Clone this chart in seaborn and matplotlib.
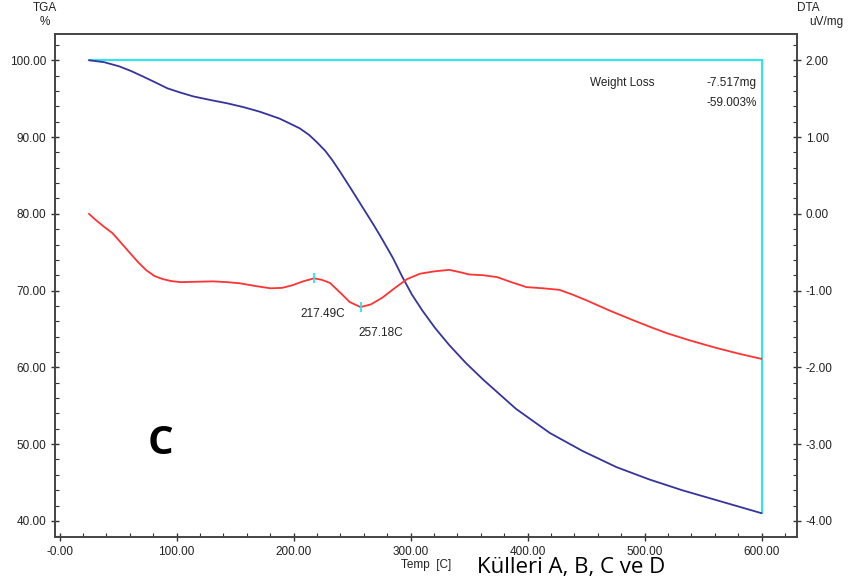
import matplotlib.pyplot as plt
import seaborn as sns
import pandas as pd
from matplotlib.ticker import MultipleLocator, FormatStrFormatter

# TGA curve (weight %)
tga_temp = [25, 38, 51, 61, 71, 82, 92, 103, 114, 128, 143, 157, 171, 188, 205,
            213, 220, 227, 233, 240, 248, 255, 262, 269, 276, 285, 293, 301, 310,
            321, 333, 347, 362, 390, 419, 447, 476, 504, 532, 566, 600]
tga_pct = [100.0, 99.75, 99.2, 98.6, 97.9, 97.1, 96.35, 95.8, 95.3, 94.85, 94.4,
           93.9, 93.3, 92.4, 91.15, 90.3, 89.3, 88.2, 87.0, 85.4, 83.5, 81.8, 80.1,
           78.4, 76.6, 74.2, 71.75, 69.5, 67.4, 65.1, 62.9, 60.6, 58.4, 54.6, 51.45,
           49.1, 47.0, 45.4, 44.0, 42.5, 41.0]

# DTA curve (uV/mg)
dta_temp = [25, 30, 38, 45, 52, 60, 67, 74, 81, 88, 95, 103, 117, 131, 143, 154,
            167, 180, 190, 199, 208, 217.49, 224, 231, 240, 248, 257.18, 266, 276,
            287, 297, 308, 320, 333, 342, 350, 362, 374, 386, 399, 413, 427, 438,
            450, 470, 490, 505, 519, 540, 562, 580, 600]
dta_val = [0.00, -0.07, -0.17, -0.25, -0.37, -0.51, -0.63, -0.735, -0.81, -0.85,
           -0.875, -0.89, -0.885, -0.88, -0.89, -0.905, -0.94, -0.97, -0.965, -0.93,
           -0.88, -0.84, -0.86, -0.90, -1.03, -1.15, -1.215, -1.18, -1.09, -0.96,
           -0.85, -0.78, -0.75, -0.73, -0.76, -0.79, -0.80, -0.825, -0.89, -0.955,
           -0.97, -0.99, -1.05, -1.125, -1.26, -1.385, -1.475, -1.555, -1.655, -1.75,
           -1.82, -1.89]

peak_temps = [217.49, 257.18]
peak_dta = [-0.84, -1.215]
peak_labels = ['217.49C', '257.18C']

step_start, step_end = 25, 600
weight_loss_mg = '-7.517mg'
weight_loss_pct = '-59.003%'

sns.set_style('ticks')
plt.rcParams['font.family'] = ['Liberation Sans', 'DejaVu Sans']

fig = plt.figure(figsize=(8.53, 5.79), dpi=100)
ax = fig.add_axes([0.0645, 0.0725, 0.8695, 0.8685])
ax2 = ax.twinx()

df_tga = pd.DataFrame({'temp': tga_temp, 'tga': tga_pct})
df_dta = pd.DataFrame({'temp': dta_temp, 'dta': dta_val})

# weight loss step lines
ax.plot([step_start, step_end], [tga_pct[0], tga_pct[0]], color='#22e8f0', lw=1.4, zorder=1)
ax.plot([step_end, step_end], [tga_pct[0], tga_pct[-1]], color='#22e8f0', lw=1.4, zorder=1)

sns.lineplot(data=df_tga, x='temp', y='tga', ax=ax, color='#34349c', lw=1.3, zorder=3)
sns.lineplot(data=df_dta, x='temp', y='dta', ax=ax2, color='#ff3333', lw=1.3)
ax2.plot(peak_temps, peak_dta, ls='none', marker='|', ms=7, mew=1.3, color='#22e8f0')

ax.set_xlim(-4, 630)
ax.set_ylim(37.9, 103.4)
ax2.set_ylim((37.9 - 80) / 10, (103.4 - 80) / 10)

ax.xaxis.set_major_locator(MultipleLocator(100))
ax.xaxis.set_minor_locator(MultipleLocator(20))
ax.yaxis.set_major_locator(MultipleLocator(10))
ax.yaxis.set_minor_locator(MultipleLocator(2))
ax2.yaxis.set_major_locator(MultipleLocator(1))
ax2.yaxis.set_minor_locator(MultipleLocator(0.2))
ax.yaxis.set_major_formatter(FormatStrFormatter('%.2f'))
ax2.yaxis.set_major_formatter(FormatStrFormatter('%.2f'))
xt = [0, 100, 200, 300, 400, 500, 600]
ax.set_xticks(xt)
ax.set_xticklabels(['-0.00' if t == 0 else f'{t:.2f}' for t in xt])

for a in (ax, ax2):
    a.tick_params(which='major', direction='inout', length=6, width=1, labelsize=8.5,
                  colors='#333333', labelcolor='#222222')
    a.tick_params(which='minor', direction='in', length=3, width=0.8, colors='#333333')
    for s in a.spines.values():
        s.set_color('#444444')
        s.set_linewidth(1.2)
ax2.tick_params(axis='y', which='both', right=True)

ax.set_xlabel('')
ax.set_ylabel('')
ax2.set_ylabel('')

txt = dict(fontsize=8.5, color='#222222')
fig.text(45 / 853, 1 - 8 / 579, 'TGA', ha='center', va='center', **txt)
fig.text(45 / 853, 1 - 22 / 579, '%', ha='center', va='center', **txt)
fig.text(808 / 853, 1 - 8 / 579, 'DTA', ha='center', va='center', **txt)
fig.text(826 / 853, 1 - 22 / 579, 'uV/mg', ha='center', va='center', **txt)
fig.text(426 / 853, 1 - 565 / 579, 'Temp  [C]', ha='center', va='center', **txt)

fig.text(590 / 853, 1 - 83 / 579, 'Weight Loss', ha='left', va='center', **txt)
fig.text(707 / 853, 1 - 83 / 579, weight_loss_mg, ha='left', va='center', **txt)
fig.text(707 / 853, 1 - 103 / 579, weight_loss_pct, ha='left', va='center', **txt)

ax2.annotate(peak_labels[0], (peak_temps[0], peak_dta[0]), xytext=(9, -36),
             textcoords='offset pixels', ha='center', va='center', **txt)
ax2.annotate(peak_labels[1], (peak_temps[1], peak_dta[1]), xytext=(20, -26),
             textcoords='offset pixels', ha='center', va='center', **txt)

fig.text(160 / 853, 1 - 443 / 579, 'C', ha='center', va='center', fontsize=29,
         fontweight='bold', family=['Open Sans', 'DejaVu Sans'], color='black')
fig.text(477 / 853, 1 / 579, 'Külleri A, B, C ve D', ha='left', va='bottom', fontsize=16,
         family=['Open Sans', 'DejaVu Sans'], color='black')

fig.savefig('out.png', dpi=100)
